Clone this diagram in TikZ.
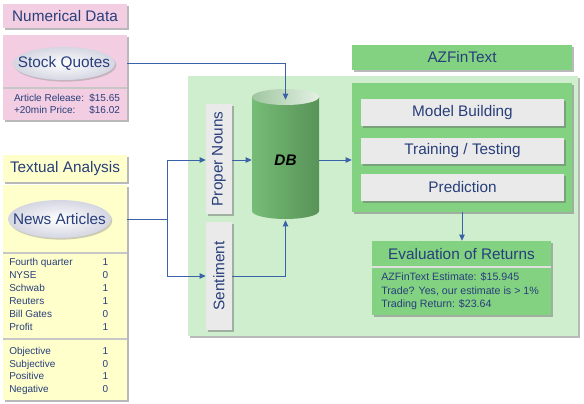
\documentclass[tikz,border=0pt]{standalone}
\usepackage{fontspec}
\setmainfont{Liberation Sans}
\usepackage{graphicx}
\usetikzlibrary{shapes.geometric,shadows,arrows.meta}
\definecolor{txtblue}{RGB}{40,62,122}
\definecolor{lineblue}{RGB}{58,98,168}
\definecolor{pinkfill}{RGB}{243,206,226}
\definecolor{yellowfill}{RGB}{255,255,204}
\definecolor{bggreen}{RGB}{206,238,206}
\definecolor{boxgreen}{RGB}{130,210,130}
\definecolor{boxgray}{RGB}{234,234,234}
\definecolor{ovalgray}{RGB}{212,214,226}
\definecolor{dbleft}{RGB}{118,188,118}
\definecolor{dbmid}{RGB}{162,234,162}
\definecolor{dbright}{RGB}{88,146,88}
\definecolor{dbtopleft}{RGB}{160,198,160}
\definecolor{dbtopright}{RGB}{228,240,228}
\begin{document}
\begin{tikzpicture}[x=0.75pt,y=0.75pt,yscale=-1,xscale=1,
  shadowed/.style={drop shadow={shadow xshift=1.8pt,shadow yshift=-1.8pt,fill=black!55,opacity=.5}},
  panel/.style={rectangle,inner sep=0pt,shadowed},
  bigfont/.style={text=txtblue,font=\fontsize{11.5}{13}\selectfont},
  smallfont/.style={text=txtblue,font=\fontsize{7.5}{9.5}\selectfont,inner sep=0pt},
  oval/.style={ellipse,inner sep=0pt,shading=radial,inner color=white,outer color=ovalgray,
    drop shadow={shadow xshift=1pt,shadow yshift=-1.2pt,fill=black!40,opacity=.5}},
  sep/.style={black!22,line width=1.2pt},
  arr/.style={lineblue,line width=0.75pt,-{Triangle[length=4.5pt,width=4pt]}},
  link/.style={lineblue,line width=0.75pt}
]
\useasboundingbox (0,0) rectangle (584,403);
\node [panel,fill=bggreen,minimum width=292.5pt,minimum height=195pt] (bg) at (383,206) {};
\node [panel,fill=pinkfill,minimum width=93pt,minimum height=18pt,bigfont] (numtitle) at (65,16) {Numerical Data};
\node [panel,fill=pinkfill,minimum width=93pt,minimum height=63.75pt] (numbox) at (65,77.5) {};
\draw [sep] (3,88) -- (127,88);
\node [oval,minimum width=76.5pt,minimum height=24.75pt] (stock) at (64,63.5) {};
\node [bigfont,inner sep=0pt] (stocklabel) at (stock) {Stock Quotes};
\node [smallfont] (prices) at (67,105) {\begin{tabular}{@{}l@{\hspace{4pt}}r@{}}Article Release: & \$15.65\\+20min Price: & \$16.02\end{tabular}};
\node [panel,fill=yellowfill,minimum width=93pt,minimum height=20.25pt,bigfont] (texttitle) at (65,168.5) {Textual Analysis};
\node [panel,fill=yellowfill,minimum width=93pt,minimum height=161.25pt] (textbox) at (65,292.5) {};
\draw [sep] (3,253) -- (127,253);
\draw [sep] (3,339) -- (127,339);
\node [oval,minimum width=77.25pt,minimum height=28.5pt] (news) at (59.5,219) {};
\node [bigfont,inner sep=0pt] (newslabel) at (news) {News Articles};
\node [smallfont,anchor=west,font=\fontsize{7.5}{9.75}\selectfont] (terms) at (9,295.5) {\begin{tabular}{@{}p{70pt}@{}l@{}}Fourth quarter & 1\\NYSE & 0\\Schwab & 1\\Reuters & 1\\Bill Gates & 0\\Profit & 1\end{tabular}};
\node [smallfont,anchor=west,font=\fontsize{7.5}{9.5}\selectfont] (tone) at (9,371) {\begin{tabular}{@{}p{70pt}@{}l@{}}Objective & 1\\Subjective & 0\\Positive & 1\\Negative & 0\end{tabular}};
\node [panel,fill=boxgreen,minimum width=165pt,minimum height=18.75pt,bigfont] (azftitle) at (462,57.5) {AZFinText};
\node [panel,fill=boxgreen,minimum width=165pt,minimum height=96.75pt] (model) at (462,147.5) {};
\node [panel,fill=boxgray,minimum width=152.25pt,minimum height=20.25pt,bigfont] (build) at (462.5,112.5) {Model Building};
\node [panel,fill=boxgray,minimum width=152.25pt,minimum height=19.5pt,bigfont] (train) at (462.5,151) {Training / Testing};
\node [panel,fill=boxgray,minimum width=152.25pt,minimum height=20.25pt,bigfont] (pred) at (462.5,187.5) {Prediction};
\node [panel,fill=boxgreen,minimum width=134.25pt,minimum height=55.5pt] (eval) at (461.5,278) {};
\draw [sep,black!12] (372,267) -- (551,267);
\node [bigfont,inner sep=0pt] (evaltitle) at (461.5,254.5) {Evaluation of Returns};
\node [smallfont,anchor=west,align=left,font=\fontsize{8}{10.2}\selectfont] (evalinfo) at (381,291.5) {AZFinText Estimate: \$15.945\\Trade? Yes, our estimate is > 1\%\\Trading Return: \$23.64};
\node [panel,fill=boxgray,minimum width=19.5pt,minimum height=82.5pt,bigfont] (proper) at (219,159) {\rotatebox{90}{Proper Nouns}};
\node [panel,fill=boxgray,minimum width=19.5pt,minimum height=81pt,bigfont] (sent) at (219,276) {\rotatebox{90}{Sentiment}};
\shade [left color=dbleft,middle color=dbmid,right color=dbright] (252,97) -- (252,211) arc (180:0:33.5 and 8) -- (319,97) -- cycle;
\shade [left color=dbtopleft,right color=dbtopright] (285.5,97) ellipse (33.5 and 8);
\node [inner sep=0pt,minimum width=50.25pt,minimum height=90pt,font=\fontsize{11.5}{13}\selectfont\bfseries\itshape] (db) at (285.5,160) {DB};
\coordinate (split) at (167,219);
\draw [link] (news -| textbox.east) -- (split);
\draw [arr] (split) |- (proper.west |- db);
\draw [arr] (split) |- (sent.west);
\draw [arr] (proper.east |- db) -- (db.west);
\draw [arr] (sent.east) -| (db.south);
\draw [arr] (stock -| numbox.east) -| (db.north);
\draw [arr] (db.east) -- (db.east -| model.west);
\draw [arr] (model.south) -- (model.south |- eval.north);
\end{tikzpicture}
\end{document}
